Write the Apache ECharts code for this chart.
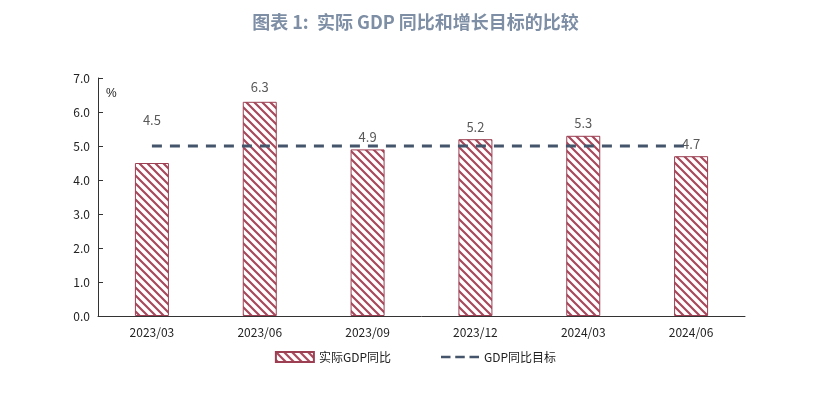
<!DOCTYPE html>
<html style="height: 100%">
<head>
<meta charset="utf-8">
<script src="https://cdn.jsdelivr.net/npm/echarts@6/dist/echarts.min.js"></script>
</head>
<body style="height: 100%; margin: 0; background: #fff">
<div id="container" style="width: 831px; height: 404px"></div>
<script type="text/javascript">
var categories = ['2023/03', '2023/06', '2023/09', '2023/12', '2024/03', '2024/06'];
var gdpValues = [4.5, 6.3, 4.9, 5.2, 5.3, 4.7];
var targetValues = [5, 5, 5, 5, 5, 5];
var labelGap = [36, 8, 6, 6, 6, 6];

// diagonal hatch pattern
function makeHatch() {
    var c = document.createElement('canvas');
    c.width = 8; c.height = 8;
    var ctx = c.getContext('2d');
    ctx.fillStyle = '#fff';
    ctx.fillRect(0, 0, 8, 8);
    ctx.strokeStyle = '#a8485c';
    ctx.lineWidth = 2.2;
    ctx.beginPath();
    ctx.moveTo(-2, -2); ctx.lineTo(10, 10);
    ctx.moveTo(-2, 6); ctx.lineTo(2, 10);
    ctx.moveTo(6, -2); ctx.lineTo(10, 2);
    ctx.stroke();
    return c;
}
var hatch = { image: makeHatch(), repeat: 'repeat' };

var myChart = echarts.init(document.getElementById('container'));
var font = 'Noto Sans CJK SC';
var option = {
    title: {
        text: '图表 1:  实际 GDP 同比和增长目标的比较',
        left: 'center', top: 8,
        textStyle: { color: '#7d8ea5', fontSize: 18, fontWeight: 'bold', fontFamily: font }
    },
    grid: { left: 98, right: 86, top: 78, bottom: 88 },
    legend: {
        bottom: 36, itemGap: 50, itemWidth: 38, itemHeight: 10,
        textStyle: { fontFamily: font, fontSize: 12, color: '#222' },
        data: [
            { name: '实际GDP同比', icon: 'rect' },
            { name: 'GDP同比目标', icon: 'path://M0,4h8v2h-8z M12,4h8v2h-8z M24,4h8v2h-8z' }
        ]
    },
    xAxis: {
        type: 'category', data: categories,
        axisLine: { lineStyle: { color: '#333' } },
        axisTick: { alignWithLabel: false, length: 5, lineStyle: { color: '#333' } },
        axisLabel: { color: '#222', fontSize: 12, fontFamily: font, margin: 10 }
    },
    yAxis: {
        type: 'value', min: 0, max: 7, interval: 1,
        name: '%', nameLocation: 'end', nameGap: -22,
        nameTextStyle: { color: '#222', fontSize: 12, align: 'left', padding: [0, 0, 0, 8] },
        splitLine: { show: false },
        axisLine: { show: true, lineStyle: { color: '#333' } },
        axisTick: { show: true, inside: true, length: 5, lineStyle: { color: '#333' } },
        axisLabel: { color: '#222', fontSize: 12, fontFamily: font, formatter: function (v) { return v.toFixed(1); } }
    },
    series: [
        {
            name: '实际GDP同比', type: 'bar', barWidth: 34,
            itemStyle: { color: hatch, borderColor: '#9c3f52', borderWidth: 1 },
            data: gdpValues.map(function (v, i) {
                return { value: v, label: { show: true, position: 'top', distance: labelGap[i] } };
            }),
            label: { color: '#595959', fontSize: 13, fontFamily: font, formatter: function (p) { return p.value.toFixed(1); } }
        },
        {
            name: 'GDP同比目标', type: 'line', data: targetValues,
            symbol: 'none', z: 3,
            lineStyle: { color: '#44546a', width: 3, type: [10, 8] },
            itemStyle: { color: '#44546a' }
        }
    ]
};
myChart.setOption(option);
</script>
</body>
</html>
